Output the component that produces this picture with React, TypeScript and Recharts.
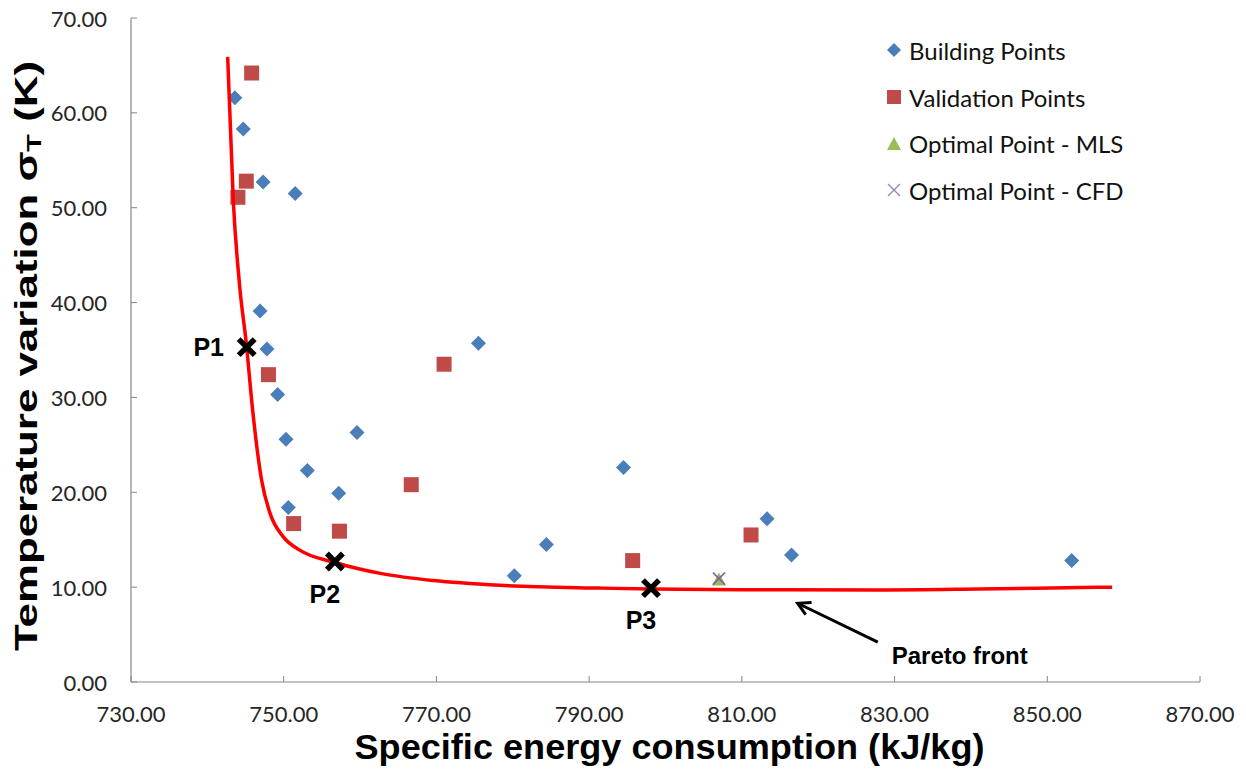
import React from "react";
import { ScatterChart, Scatter, XAxis, YAxis, Legend, ReferenceLine, LabelList, Label } from "recharts";

const BUILDING_X = [743.6, 744.7, 747.3, 751.5, 746.9, 747.8, 749.2, 750.3, 750.6, 753.1, 757.2, 759.6, 775.5, 780.2, 784.4, 794.5, 813.3, 816.5, 853.2];
const BUILDING_Y = [61.6, 58.3, 52.7, 51.5, 39.1, 35.1, 30.3, 25.6, 18.4, 22.3, 19.9, 26.3, 35.7, 11.2, 14.5, 22.6, 17.2, 13.4, 12.8];

const VALIDATION_X = [745.8, 745.1, 744.0, 748.0, 751.3, 757.3, 766.7, 771.0, 795.7, 811.2];
const VALIDATION_Y = [64.2, 52.8, 51.1, 32.4, 16.7, 15.9, 20.8, 33.5, 12.8, 15.5];

const MLS_X = [807.0];
const MLS_Y = [10.8];
const CFD_X = [807.0];
const CFD_Y = [10.9];

const P_LABELS = ["P1", "P2", "P3"];
const P_X = [745.15, 756.7, 798.1];
const P_Y = [35.3, 12.7, 9.9];

const PARETO_X = [742.66, 743.4, 744.2, 745.15, 745.8, 747.1, 748.2, 749.95, 752.1, 756.7, 763.0, 769.6, 778.3, 791.4, 798.1, 815.2, 828.1, 841.0, 854.3, 858.5];
const PARETO_Y = [65.9, 50.7, 42.0, 35.3, 29.7, 21.3, 17.8, 15.3, 13.9, 12.6, 11.4, 10.7, 10.2, 9.9, 9.8, 9.72, 9.7, 9.8, 9.95, 10.0];

// arrow pointing at the front: head, then tail
const ARROW_X = [817.3, 827.8];
const ARROW_Y = [8.3, 4.2];

const X_TICKS = [730, 750, 770, 790, 810, 830, 850, 870];
const Y_TICKS = [0, 10, 20, 30, 40, 50, 60, 70];

const LEGEND = [
  { name: "Building Points", kind: "diamond" },
  { name: "Validation Points", kind: "square" },
  { name: "Optimal Point - MLS", kind: "triangle" },
  { name: "Optimal Point - CFD", kind: "cross" },
];

const BLUE = "#4A7EBB";
const RED = "#BE4B48";
const GREEN = "#9BBB59";
const PURPLE = "#8064A2";
const AXIS = "#868686";
const TICK_FONT = "Lato, 'Liberation Sans', sans-serif";
const BOLD_FONT = "'Liberation Sans', Arial, sans-serif";

const zip = (xs: number[], ys: number[]) => xs.map((x, i) => ({ x, y: ys[i] }));

const buildingData = zip(BUILDING_X, BUILDING_Y);
const validationData = zip(VALIDATION_X, VALIDATION_Y);
const mlsData = zip(MLS_X, MLS_Y);
const cfdData = zip(CFD_X, CFD_Y);
const paretoData = zip(PARETO_X, PARETO_Y);
const pData = P_X.map((x, i) => ({ x, y: P_Y[i], label: P_LABELS[i] }));

const Diamond = ({ cx, cy }: any) => (
  <polygon points={`${cx},${cy - 7.5} ${cx + 7.5},${cy} ${cx},${cy + 7.5} ${cx - 7.5},${cy}`} fill={BLUE} />
);
const Square = ({ cx, cy }: any) => <rect x={cx - 7.5} y={cy - 7.5} width={15} height={15} fill={RED} />;
const Triangle = ({ cx, cy }: any) => (
  <polygon points={`${cx},${cy - 7} ${cx + 7},${cy + 6} ${cx - 7},${cy + 6}`} fill={GREEN} />
);
const Cross = ({ cx, cy }: any) => (
  <g stroke={PURPLE} strokeWidth={1.6}>
    <line x1={cx - 6} y1={cy - 6} x2={cx + 6} y2={cy + 6} />
    <line x1={cx - 6} y1={cy + 6} x2={cx + 6} y2={cy - 6} />
  </g>
);
const BoldX = ({ cx, cy }: any) => (
  <g stroke="#000" strokeWidth={5.5}>
    <line x1={cx - 8} y1={cy - 8} x2={cx + 8} y2={cy + 8} />
    <line x1={cx - 8} y1={cy + 8} x2={cx + 8} y2={cy - 8} />
  </g>
);

const PLabel = (props: any) => {
  const { x, y, width, height, value } = props;
  const cx = x + (width || 0) / 2;
  const cy = y + (height || 0) / 2;
  const left = value === "P1";
  return (
    <text
      x={left ? cx - 38 : cx - 10}
      y={left ? cy : cy + 32}
      textAnchor="middle"
      dominantBaseline="central"
      fontFamily={BOLD_FONT}
      fontWeight="bold"
      fontSize={25}
      fill="#000"
    >
      {value}
    </text>
  );
};

const ArrowShape = (props: any) => {
  const { x1, y1, x2, y2 } = props;
  const ang = Math.atan2(y1 - y2, x1 - x2);
  const head = 14;
  const a1 = ang + 0.5;
  const a2 = ang - 0.5;
  return (
    <g>
      <line x1={x2} y1={y2} x2={x1} y2={y1} stroke="#000" strokeWidth={3} />
      <polyline
        points={`${x1 - head * Math.cos(a1)},${y1 - head * Math.sin(a1)} ${x1},${y1} ${x1 - head * Math.cos(a2)},${y1 - head * Math.sin(a2)}`}
        fill="none"
        stroke="#000"
        strokeWidth={3}
      />
      <text x={x2 + 82} y={y2 + 13} textAnchor="middle" dominantBaseline="central" fontFamily={BOLD_FONT} fontWeight="bold" fontSize={24} fill="#000">
        Pareto front
      </text>
    </g>
  );
};

const YTick = ({ x, y, payload }: any) => (
  <g>
    <line x1={x + 24} x2={x + 30} y1={y} y2={y} stroke={AXIS} />
    <text x={x} y={y} textAnchor="end" dominantBaseline="central" fontFamily={TICK_FONT} fontSize={22} fill="#262626">
      {Number(payload.value).toFixed(2)}
    </text>
  </g>
);

const XTick = ({ x, y, payload }: any) => (
  <g>
    <line x1={x} x2={x} y1={y - 31} y2={y - 37} stroke={AXIS} />
    <text x={x} y={y} textAnchor="middle" dominantBaseline="central" fontFamily={TICK_FONT} fontSize={22} fill="#262626">
      {Number(payload.value).toFixed(2)}
    </text>
  </g>
);

const LegendMarker = ({ kind }: { kind: string }) => (
  <svg width={18} height={18} style={{ display: "block" }}>
    {kind === "diamond" && <polygon points="9,2 16,9 9,16 2,9" fill={BLUE} />}
    {kind === "square" && <rect x={2} y={2} width={14} height={14} fill={RED} />}
    {kind === "triangle" && <polygon points="9,2 16,15 2,15" fill={GREEN} />}
    {kind === "cross" && (
      <g stroke={PURPLE} strokeWidth={1.3} opacity={0.8}>
        <line x1={3} y1={3} x2={15} y2={15} />
        <line x1={3} y1={15} x2={15} y2={3} />
      </g>
    )}
  </svg>
);

const LegendContent = () => (
  <div style={{ fontFamily: TICK_FONT, fontSize: 24, color: "#111" }}>
    {LEGEND.map((item) => (
      <div key={item.name} style={{ display: "flex", alignItems: "center", height: 46.7, gap: 6 }}>
        <LegendMarker kind={item.kind} />
        <span>{item.name}</span>
      </div>
    ))}
  </div>
);

const YTitle = ({ viewBox }: any) => {
  const cx = viewBox.x + 26;
  const cy = viewBox.y + viewBox.height / 2 + 6;
  return (
    <text
      x={cx}
      y={cy}
      transform={`rotate(-90, ${cx}, ${cy})`}
      textAnchor="middle"
      dominantBaseline="central"
      fontFamily={BOLD_FONT}
      fontWeight="bold"
      fontSize={32}
      fill="#000"
      textLength={590}
      lengthAdjust="spacingAndGlyphs"
    >
      Temperature variation σ
      <tspan fontSize={21} dy={7}>T</tspan>
      <tspan dy={-7}> (K)</tspan>
    </text>
  );
};

const XTitle = ({ viewBox }: any) => {
  const cx = viewBox.x + viewBox.width / 2 + 4;
  return (
    <text
      x={cx}
      y={746}
      textAnchor="middle"
      dominantBaseline="central"
      fontFamily={BOLD_FONT}
      fontWeight="bold"
      fontSize={35}
      fill="#000"
      textLength={630}
      lengthAdjust="spacingAndGlyphs"
    >
      Specific energy consumption (kJ/kg)
    </text>
  );
};

export default function App() {
  return (
    <div style={{ position: "absolute", left: 0, top: 0, width: 1246, height: 780, background: "#fff" }}>
      <ScatterChart width={1246} height={780} margin={{ top: 18, right: 46, bottom: 0, left: 0 }}>
        <XAxis
          type="number"
          dataKey="x"
          domain={[730, 870]}
          ticks={X_TICKS}
          allowDataOverflow
          height={98}
          tickSize={0}
          tickMargin={31}
          tickLine={false}
          axisLine={{ stroke: AXIS, strokeWidth: 1.2 }}
          tick={<XTick />}
          interval={0}
        >
          <Label content={<XTitle />} />
        </XAxis>
        <YAxis
          type="number"
          dataKey="y"
          domain={[0, 70]}
          ticks={Y_TICKS}
          allowDataOverflow
          width={131}
          tickSize={0}
          tickMargin={24}
          tickLine={false}
          axisLine={{ stroke: AXIS, strokeWidth: 1.2 }}
          tick={<YTick />}
          interval={0}
        >
          <Label content={<YTitle />} />
        </YAxis>
        <Legend
          layout="vertical"
          align="center"
          verticalAlign="middle"
          wrapperStyle={{ top: 27, left: 885, width: 340 }}
          content={<LegendContent />}
        />
        <Scatter name="Building Points" data={buildingData} shape={<Diamond />} isAnimationActive={false} />
        <Scatter name="Validation Points" data={validationData} shape={<Square />} isAnimationActive={false} />
        <Scatter name="Optimal Point - MLS" data={mlsData} shape={<Triangle />} isAnimationActive={false} />
        <Scatter name="Optimal Point - CFD" data={cfdData} shape={<Cross />} isAnimationActive={false} />
        <Scatter
          name="Pareto front"
          data={paretoData}
          line={{ stroke: "#FF0000", strokeWidth: 3.5 }}
          lineJointType="monotoneX"
          shape={() => <g />}
          legendType="none"
          isAnimationActive={false}
        />
        <Scatter name="Points" data={pData} shape={<BoldX />} legendType="none" isAnimationActive={false}>
          <LabelList dataKey="label" content={<PLabel />} />
        </Scatter>
        <ReferenceLine
          segment={[
            { x: ARROW_X[0], y: ARROW_Y[0] },
            { x: ARROW_X[1], y: ARROW_Y[1] },
          ]}
          shape={<ArrowShape />}
        />
      </ScatterChart>
    </div>
  );
}
